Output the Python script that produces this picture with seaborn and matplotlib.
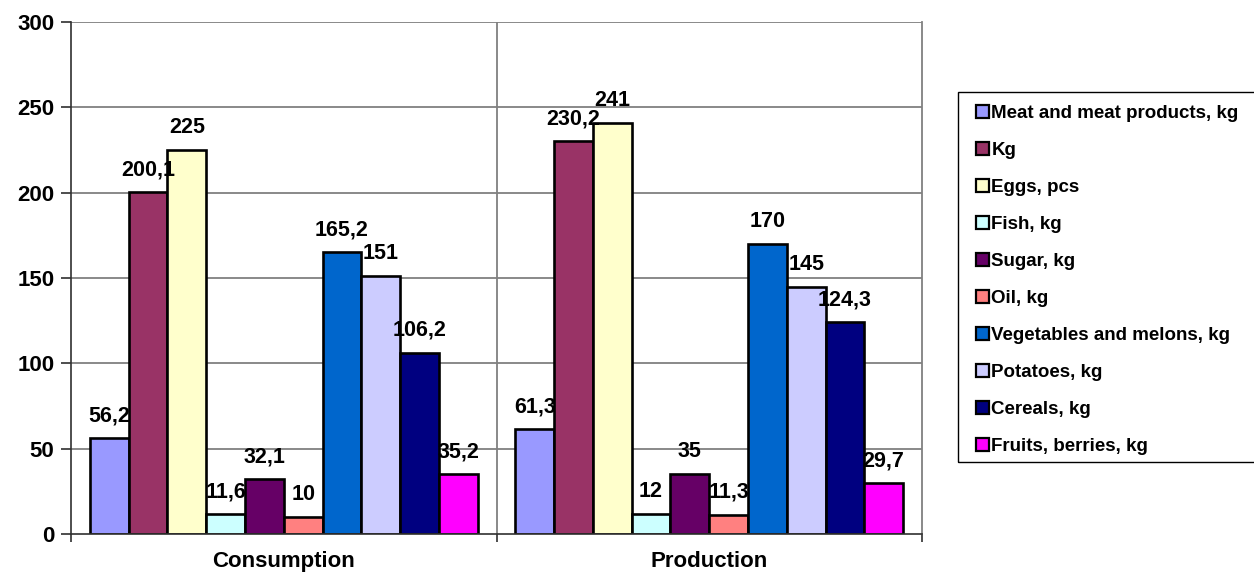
import matplotlib
matplotlib.use("Agg")
import matplotlib.pyplot as plt
import seaborn as sns
import pandas as pd
from matplotlib.ticker import MultipleLocator, FixedLocator
from matplotlib.patches import Rectangle

categories = ["Consumption", "Production"]
series = ["Meat and meat products, kg", "Kg", "Eggs, pcs", "Fish, kg", "Sugar, kg",
          "Oil, kg", "Vegetables and melons, kg", "Potatoes, kg", "Cereals, kg",
          "Fruits, berries, kg"]
consumption = [56.2, 200.1, 225, 11.6, 32.1, 10, 165.2, 151, 106.2, 35.2]
production = [61.3, 230.2, 241, 12, 35, 11.3, 170, 145, 124.3, 29.7]
colors = ["#9999FF", "#993366", "#FFFFCC", "#CCFFFF", "#660066",
          "#FF8080", "#0066CC", "#CCCCFF", "#000080", "#FF00FF"]

rows = []
for s, c, p in zip(series, consumption, production):
    rows.append({"Group": categories[0], "Item": s, "Value": c})
    rows.append({"Group": categories[1], "Item": s, "Value": p})
df = pd.DataFrame(rows)

sns.set_theme(style="white")
plt.rcParams["font.family"] = ["Liberation Sans", "DejaVu Sans"]
plt.rcParams["font.weight"] = "bold"
for k in ["text.color", "axes.labelcolor", "xtick.color", "ytick.color"]:
    plt.rcParams[k] = "black"

W, H = 1254, 572
fig = plt.figure(figsize=(W / 100, H / 100), dpi=100)
ax = fig.add_axes([71 / W, 1 - 534 / H, (922 - 71) / W, (534 - 22) / H])

sns.barplot(data=df, x="Group", y="Value", hue="Item", order=categories,
            hue_order=series, palette=colors, width=0.911, gap=0,
            edgecolor="black", linewidth=1.9, saturation=1, ax=ax, legend=True)

ax.set_ylim(0, 300)
ax.set_xlim(-0.5, 1.5)
ax.yaxis.set_major_locator(MultipleLocator(50))
ax.grid(False)
for yv in range(50, 301, 50):
    ax.axhline(yv, color="#808080", lw=1.3, zorder=0)
ax.axvline(0.5, color="#808080", lw=1.3, zorder=0)

ax.spines["top"].set_visible(False)
ax.spines["right"].set_visible(True)
ax.spines["right"].set_color("#808080")
ax.spines["right"].set_linewidth(1.3)
for sp in ["left", "bottom"]:
    ax.spines[sp].set_color("#303030")
    ax.spines[sp].set_linewidth(1.2)

ax.set_xlabel("")
ax.set_ylabel("")
ax.tick_params(axis="y", which="major", direction="out", length=7, width=1.2,
               color="#303030", left=True, labelsize=16, pad=5)
ax.tick_params(axis="x", which="major", length=0, labelsize=16, pad=12)
ax.xaxis.set_minor_locator(FixedLocator([-0.5, 0.5, 1.5]))
ax.tick_params(axis="x", which="minor", direction="out", length=6, width=1.2,
               color="#303030", bottom=True)
for lbl in ax.get_xticklabels() + ax.get_yticklabels():
    lbl.set_fontweight("bold")

for cont in ax.containers:
    labels = [f"{v:g}".replace(".", ",") for v in cont.datavalues]
    ax.bar_label(cont, labels=labels, padding=8.5, fontsize=15.5, fontweight="bold")

handles, labs = ax.get_legend_handles_labels()
ax.get_legend().remove()

fig.patches.append(Rectangle((958 / W, 1 - 462 / H), (W + 10 - 958) / W, (462 - 92) / H,
                             transform=fig.transFigure, fill=False,
                             edgecolor="black", linewidth=1.0))
leg = fig.legend(handles, labs, loc="upper left",
                 bbox_to_anchor=(976 / W, 1 - 105 / H), frameon=False,
                 fontsize=13.5, handlelength=0.7, handleheight=0.7,
                 handletextpad=0.12, labelspacing=1.06, borderpad=0,
                 borderaxespad=0)
for t in leg.get_texts():
    t.set_fontweight("bold")
for h in leg.legend_handles:
    h.set_edgecolor("black")
    h.set_linewidth(1.6)

fig.savefig("out.png", dpi=100)
